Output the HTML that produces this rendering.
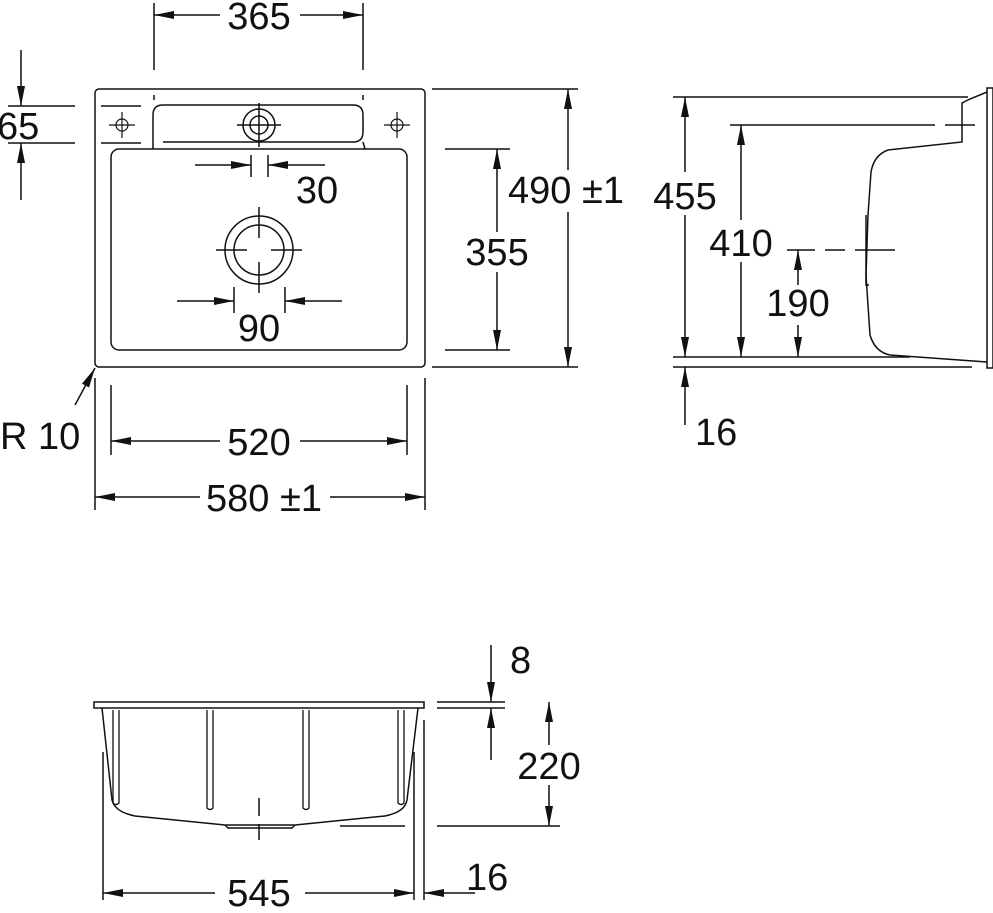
<!DOCTYPE html>
<html><head><meta charset="utf-8"><style>
html,body{margin:0;padding:0;background:#fff;}
svg text{font-family:"Liberation Sans",Arial,sans-serif;font-size:38px;fill:#111;}
</style></head><body>
<svg width="993" height="908" viewBox="0 0 993 908" xmlns="http://www.w3.org/2000/svg">
<defs>
<marker id="a" viewBox="0 0 20 8" refX="20" refY="4" markerWidth="20" markerHeight="8" markerUnits="userSpaceOnUse" orient="auto-start-reverse"><path d="M0,0 L20,4 L0,8 z" fill="#111"/></marker>
</defs>
<g stroke="#111" stroke-width="1.5" fill="none">
<rect x="95" y="89" width="330" height="278" rx="4"/>
<path d="M153,142 L153,115 Q153,105 163,105 L353,105 Q363,105 363,115 L363,132 Q363,142 353,142 L163,142"/>
<path d="M153,142 L153,149 M363,142 L365,149"/>
<rect x="111" y="149" width="296" height="201" rx="8"/>
<circle cx="259" cy="125" r="16"/><circle cx="259" cy="125" r="9"/>
<path d="M237,125 H281 M259,103 V147"/>
<circle cx="259" cy="250" r="34"/><circle cx="259" cy="250" r="25"/>
<path d="M216,250 H247 M271,250 H302 M259,207 V238 M259,262 V293"/>
<g stroke-width="1.2"><circle cx="122" cy="125" r="6"/><path d="M109,125 H135 M122,112 V138"/><circle cx="397" cy="125" r="6"/><path d="M384,125 H410 M397,112 V138"/></g>
<path d="M101,106 H141 M101,143 H141"/>
<path d="M154,3 V70 M363,3 V70 M154,95 V100 M363,95 V100"/>
<path d="M220,15 H154" marker-end="url(#a)"/><path d="M300,15 H363" marker-end="url(#a)"/>
<path d="M8,106 H75 M8,143 H75"/>
<path d="M21,50 V106" marker-end="url(#a)"/><path d="M21,200 V143" marker-end="url(#a)"/>
<path d="M251,155 V177 M268,155 V177"/>
<path d="M195,165 H251" marker-end="url(#a)"/><path d="M325,165 H268" marker-end="url(#a)"/>
<path d="M234,287 V313 M285,287 V313"/>
<path d="M177,301 H234" marker-end="url(#a)"/><path d="M342,301 H285" marker-end="url(#a)"/>
<path d="M432,89 H578 M432,367 H578"/>
<path d="M568,170 V89" marker-end="url(#a)"/><path d="M568,212 V367" marker-end="url(#a)"/>
<path d="M445,149 H510 M445,350 H510"/>
<path d="M497,232 V149" marker-end="url(#a)"/><path d="M497,272 V350" marker-end="url(#a)"/>
<path d="M75,405 L95,368" marker-end="url(#a)"/>
<path d="M111,385 V455 M407,385 V455 M95,378 V510 M425,378 V510"/>
<path d="M220,441 H111" marker-end="url(#a)"/><path d="M300,441 H407" marker-end="url(#a)"/>
<path d="M200,497 H95" marker-end="url(#a)"/><path d="M330,497 H425" marker-end="url(#a)"/>

<path d="M673,97 H968 M730,125 H935 M945,125 H975 M673,357 H910 M673,367 H972"/>
<path d="M987,88 H993 V368 H987 Z"/>
<path d="M987,92 L970,99 L962,103 L962,142 L888,150 Q874,155 871,172 L868,215 L866,275 L870,335 Q875,352 890,355 L987,362"/>
<path d="M866,215 V285 H869"/>
<path d="M685,172 V97" marker-end="url(#a)"/><path d="M685,215 V357" marker-end="url(#a)"/>
<path d="M741,220 V125" marker-end="url(#a)"/><path d="M741,262 V357" marker-end="url(#a)"/>
<path d="M787,250 H815 M825,250 H845 M855,250 H895"/>
<path d="M798,285 V250" marker-end="url(#a)"/><path d="M798,325 V357" marker-end="url(#a)"/>
<path d="M685,425 V367" marker-end="url(#a)"/>

<rect x="94" y="702" width="330" height="6"/>
<path d="M102,708 L112,800 Q115,812 135,816 L225,825 L295,825 L385,816 Q405,812 407,800 L418,708"/>
<path d="M225,825 L228,828 H292 L295,825"/>
<g stroke-width="1.3">
<path d="M113,710 V803 Q116,806 119,803 V710"/>
<path d="M207,710 V808 Q210,811 213,808 V710"/>
<path d="M303,710 V808 Q306,811 309,808 V710"/>
<path d="M398,710 V803 Q401,806 404,803 V710"/>
</g>
<path d="M259,798 V816 M259,824 V840"/>
<path d="M103,752 V900 M414,752 V900 M424,720 V900"/>
<path d="M340,826 H405 M437,826 H560 M437,702 H505 M437,708 H505"/>
<path d="M215,893 H103" marker-end="url(#a)"/><path d="M305,893 H414" marker-end="url(#a)"/>
<path d="M475,893 H424" marker-end="url(#a)"/>
<path d="M491,645 V702" marker-end="url(#a)"/><path d="M491,760 V708" marker-end="url(#a)"/>
<path d="M549,745 V702" marker-end="url(#a)"/><path d="M549,785 V826" marker-end="url(#a)"/>
</g>
<g stroke="none">
<text x="259" y="29" text-anchor="middle">365</text>
<text x="-3" y="139">65</text>
<text x="317" y="203" text-anchor="middle">30</text>
<text x="259" y="341" text-anchor="middle">90</text>
<text x="508" y="203">490 ±1</text>
<text x="497" y="265" text-anchor="middle">355</text>
<text x="0" y="449">R 10</text>
<text x="259" y="455" text-anchor="middle">520</text>
<text x="264" y="511" text-anchor="middle">580 ±1</text>
<text x="685" y="209" text-anchor="middle">455</text>
<text x="741" y="256" text-anchor="middle">410</text>
<text x="798" y="316" text-anchor="middle">190</text>
<text x="695" y="445">16</text>
<text x="510" y="673">8</text>
<text x="549" y="779" text-anchor="middle">220</text>
<text x="259" y="906" text-anchor="middle">545</text>
<text x="466" y="890">16</text>
</g>
</svg>
</body></html>
